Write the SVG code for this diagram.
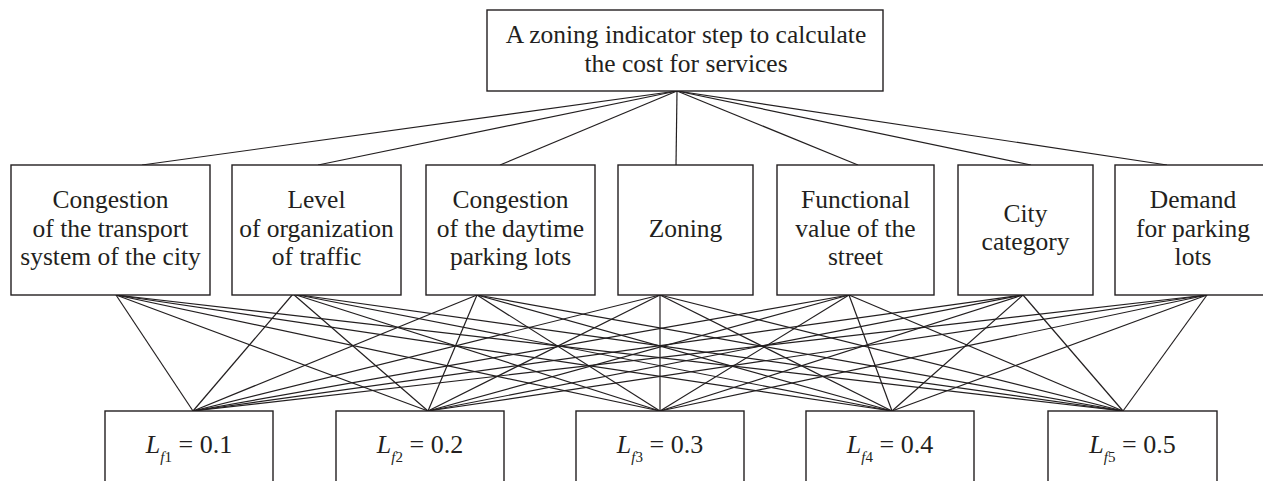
<svg xmlns="http://www.w3.org/2000/svg" width="1263" height="481" viewBox="0 0 1263 481">
<style>
.box{fill:#fff;stroke:#231f20;stroke-width:1.4}
.t{font-family:"Liberation Serif","Times New Roman",serif;font-size:25.5px;fill:#231f20;text-anchor:middle}
.lf{font-size:26px}
.c line{stroke:#231f20;stroke-width:1.2}
</style>
<rect width="1263" height="481" fill="#fff"/>
<g class="c" id="connectors">
<line x1="677" y1="91" x2="142" y2="165"/>
<line x1="677" y1="91" x2="318" y2="165"/>
<line x1="677" y1="91" x2="500" y2="165"/>
<line x1="677" y1="91" x2="676" y2="165"/>
<line x1="677" y1="91" x2="858" y2="165"/>
<line x1="677" y1="91" x2="1031" y2="165"/>
<line x1="677" y1="91" x2="1167" y2="165"/>
<line x1="116" y1="295" x2="193" y2="411"/><line x1="116" y1="295" x2="428" y2="411"/><line x1="116" y1="295" x2="660" y2="411"/><line x1="116" y1="295" x2="892" y2="411"/><line x1="116" y1="295" x2="1123" y2="411"/>
<line x1="293" y1="294" x2="193" y2="411"/><line x1="293" y1="294" x2="428" y2="411"/><line x1="293" y1="294" x2="660" y2="411"/><line x1="293" y1="294" x2="892" y2="411"/><line x1="293" y1="294" x2="1123" y2="411"/>
<line x1="477" y1="295" x2="193" y2="411"/><line x1="477" y1="295" x2="428" y2="411"/><line x1="477" y1="295" x2="660" y2="411"/><line x1="477" y1="295" x2="892" y2="411"/><line x1="477" y1="295" x2="1123" y2="411"/>
<line x1="660" y1="295" x2="193" y2="411"/><line x1="660" y1="295" x2="428" y2="411"/><line x1="660" y1="295" x2="660" y2="411"/><line x1="660" y1="295" x2="892" y2="411"/><line x1="660" y1="295" x2="1123" y2="411"/>
<line x1="849" y1="295" x2="193" y2="411"/><line x1="849" y1="295" x2="428" y2="411"/><line x1="849" y1="295" x2="660" y2="411"/><line x1="849" y1="295" x2="892" y2="411"/><line x1="849" y1="295" x2="1123" y2="411"/>
<line x1="1023" y1="295" x2="193" y2="411"/><line x1="1023" y1="295" x2="428" y2="411"/><line x1="1023" y1="295" x2="660" y2="411"/><line x1="1023" y1="295" x2="892" y2="411"/><line x1="1023" y1="295" x2="1123" y2="411"/>
<line x1="1207" y1="295" x2="193" y2="411"/><line x1="1207" y1="295" x2="428" y2="411"/><line x1="1207" y1="295" x2="660" y2="411"/><line x1="1207" y1="295" x2="892" y2="411"/><line x1="1207" y1="295" x2="1123" y2="411"/>
</g>
<g id="top">
<rect class="box" x="487" y="10" width="396" height="81"/>
<text class="t" x="686" y="43">A zoning indicator step to calculate</text>
<text class="t" x="686" y="72">the cost for services</text>
</g>
<g id="m1">
<rect class="box" x="11" y="165" width="199" height="130"/>
<text class="t" x="110.5" y="208">Congestion</text>
<text class="t" x="110.5" y="237">of the transport</text>
<text class="t" x="110.5" y="265">system of the city</text>
</g>
<g id="m2">
<rect class="box" x="232" y="165" width="169" height="130"/>
<text class="t" x="316.5" y="208">Level</text>
<text class="t" x="316.5" y="237">of organization</text>
<text class="t" x="316.5" y="265">of traffic</text>
</g>
<g id="m3">
<rect class="box" x="426" y="165" width="169" height="130"/>
<text class="t" x="510.5" y="208">Congestion</text>
<text class="t" x="510.5" y="237">of the daytime</text>
<text class="t" x="510.5" y="265">parking lots</text>
</g>
<g id="m4">
<rect class="box" x="618" y="165" width="135" height="130"/>
<text class="t" x="685.5" y="237">Zoning</text>
</g>
<g id="m5">
<rect class="box" x="777" y="165" width="157" height="130"/>
<text class="t" x="855.5" y="208">Functional</text>
<text class="t" x="855.5" y="237">value of the</text>
<text class="t" x="855.5" y="265">street</text>
</g>
<g id="m6">
<rect class="box" x="958" y="165" width="135" height="130"/>
<text class="t" x="1025.5" y="222">City</text>
<text class="t" x="1025.5" y="250">category</text>
</g>
<g id="m7">
<rect class="box" x="1115" y="165" width="156" height="130"/>
<text class="t" x="1193" y="208">Demand</text>
<text class="t" x="1193" y="237">for parking</text>
<text class="t" x="1193" y="265">lots</text>
</g>
<g id="b1">
<rect class="box" x="105" y="411" width="168" height="80"/>
<text class="t lf" x="189" y="453"><tspan font-style="italic">L</tspan><tspan font-size="15" dy="9"><tspan font-style="italic">f</tspan>1</tspan><tspan dy="-9"> = 0.1</tspan></text>
</g>
<g id="b2">
<rect class="box" x="336" y="411" width="168" height="80"/>
<text class="t lf" x="420" y="453"><tspan font-style="italic">L</tspan><tspan font-size="15" dy="9"><tspan font-style="italic">f</tspan>2</tspan><tspan dy="-9"> = 0.2</tspan></text>
</g>
<g id="b3">
<rect class="box" x="576" y="411" width="168" height="80"/>
<text class="t lf" x="660" y="453"><tspan font-style="italic">L</tspan><tspan font-size="15" dy="9"><tspan font-style="italic">f</tspan>3</tspan><tspan dy="-9"> = 0.3</tspan></text>
</g>
<g id="b4">
<rect class="box" x="806" y="411" width="168" height="80"/>
<text class="t lf" x="890" y="453"><tspan font-style="italic">L</tspan><tspan font-size="15" dy="9"><tspan font-style="italic">f</tspan>4</tspan><tspan dy="-9"> = 0.4</tspan></text>
</g>
<g id="b5">
<rect class="box" x="1048" y="411" width="169" height="80"/>
<text class="t lf" x="1132.5" y="453"><tspan font-style="italic">L</tspan><tspan font-size="15" dy="9"><tspan font-style="italic">f</tspan>5</tspan><tspan dy="-9"> = 0.5</tspan></text>
</g>
</svg>
